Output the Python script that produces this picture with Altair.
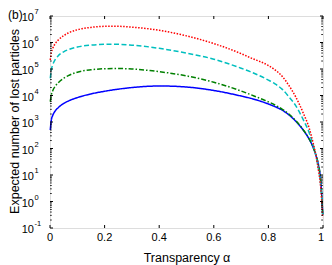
import altair as alt
import pandas as pd

# ---- data (log10 of the expected number) ----
alpha = [0.001, 0.005, 0.01, 0.02, 0.03, 0.05, 0.067, 0.1, 0.15, 0.2, 0.25, 0.3,
         0.366, 0.4, 0.5, 0.6, 0.7, 0.733, 0.8, 0.824, 0.85, 0.875, 0.9, 0.928,
         0.95, 0.964, 0.975, 0.983, 0.99, 0.995, 0.999]

red_dotted_log10 = [5.34, 5.62, 5.78, 5.97, 6.09, 6.26, 6.36, 6.48, 6.57, 6.61, 6.61, 6.58,
                    6.51, 6.46, 6.25, 5.96, 5.58, 5.43, 5.13, 4.97, 4.73, 4.38, 3.95, 3.33,
                    2.75, 2.20, 1.70, 1.20, 0.70, 0.10, -0.60]

cyan_dashed_log10 = [4.65, 4.98, 5.16, 5.37, 5.50, 5.65, 5.73, 5.83, 5.90, 5.93, 5.93, 5.90,
                     5.83, 5.78, 5.60, 5.37, 5.03, 4.90, 4.58, 4.44, 4.24, 3.95, 3.62, 3.08,
                     2.58, 2.12, 1.68, 1.25, 0.78, 0.20, -0.50]

green_dashdot_log10 = [3.77, 4.03, 4.18, 4.36, 4.48, 4.65, 4.75, 4.88, 4.97, 5.01, 5.02, 5.00,
                       4.94, 4.90, 4.74, 4.50, 4.17, 4.04, 3.76, 3.64, 3.49, 3.30, 3.05, 2.70,
                       2.35, 2.05, 1.72, 1.40, 0.95, 0.30, -0.50]

blue_solid_log10 = [2.70, 3.08, 3.25, 3.43, 3.54, 3.70, 3.79, 3.92, 4.06, 4.16, 4.24, 4.30,
                    4.35, 4.36, 4.32, 4.19, 3.98, 3.90, 3.68, 3.58, 3.45, 3.27, 3.03, 2.69,
                    2.34, 2.04, 1.71, 1.39, 0.94, 0.30, -0.50]

series_names = ["blue solid", "green dash-dot", "cyan dashed", "red dotted"]
series_log10 = [blue_solid_log10, green_dashdot_log10, cyan_dashed_log10, red_dotted_log10]
series_colors = ["#0000ff", "#008000", "#00bfbf", "#ff0000"]
series_dash = [[1, 0], [5, 2, 1.5, 2], [5, 2.5], [1.5, 1.5]]

x_ticks = [0, 0.2, 0.4, 0.6, 0.8, 1]
x_tick_labels = ["0", "0.2", "0.4", "0.6", "0.8", "1"]
y_major = [1e-1, 1e0, 1e1, 1e2, 1e3, 1e4, 1e5, 1e6, 1e7]
y_exponents = ["-1", "0", "1", "2", "3", "4", "5", "6", "7"]
y_minor = [m * d for d in y_major[:-1] for m in range(2, 10)]

panel_label = "(b)"
x_title = "Transparency α"
y_title = "Expected number of lost particles"

# ---- build tables ----
rows = []
for name, logs in zip(series_names, series_log10):
    for a, lv in zip(alpha, logs):
        rows.append({"alpha": a, "value": 10 ** lv, "series": name})
df = pd.DataFrame(rows)

xticks_df = pd.DataFrame({"t": x_ticks, "lab": x_tick_labels})
ymaj_df = pd.DataFrame({"t": y_major, "exp": y_exponents})
ymin_df = pd.DataFrame({"t": y_minor})

FONT = "Liberation Sans"
W, H = 273, 212

xs = alt.Scale(domain=[0, 1], nice=False, zero=False)
ys = alt.Scale(type="log", domain=[0.1, 1e7], nice=False)

lines = alt.Chart(df).mark_line(strokeWidth=1.5, interpolate="monotone").encode(
    x=alt.X("alpha:Q", scale=xs, axis=alt.Axis(
        title=x_title, labels=False, ticks=False, domain=False, grid=False,
        titleFont=FONT, titleFontSize=12.5, titleFontWeight="normal",
        titleColor="black", titleX=W / 2, titleY=33, titleBaseline="alphabetic",
        titleAlign="center")),
    y=alt.Y("value:Q", scale=ys, axis=alt.Axis(
        title=y_title, labels=False, ticks=False, domain=False, grid=False,
        titleFont=FONT, titleFontSize=12.5, titleFontWeight="normal",
        titleColor="black", titleX=-36, titleY=H / 2 - 1, titleAngle=270,
        titleBaseline="middle", titleAlign="center")),
    color=alt.Color("series:N", scale=alt.Scale(domain=series_names, range=series_colors), legend=None),
    strokeDash=alt.StrokeDash("series:N", scale=alt.Scale(domain=series_names, range=series_dash), legend=None),
)

tick_x_bottom = alt.Chart(xticks_df).mark_rule(color="black", strokeWidth=1).encode(
    x=alt.X("t:Q", scale=xs), y=alt.value(H), y2=alt.value(H - 3))
tick_x_top = alt.Chart(xticks_df).mark_rule(color="black", strokeWidth=1).encode(
    x=alt.X("t:Q", scale=xs), y=alt.value(0), y2=alt.value(3))
tick_y_left = alt.Chart(ymaj_df).mark_rule(color="black", strokeWidth=1).encode(
    y=alt.Y("t:Q", scale=ys), x=alt.value(0), x2=alt.value(3))
tick_y_right = alt.Chart(ymaj_df).mark_rule(color="black", strokeWidth=1).encode(
    y=alt.Y("t:Q", scale=ys), x=alt.value(W), x2=alt.value(W - 3))
minor_left = alt.Chart(ymin_df).mark_rule(color="black", strokeWidth=0.8).encode(
    y=alt.Y("t:Q", scale=ys), x=alt.value(0), x2=alt.value(1.8))
minor_right = alt.Chart(ymin_df).mark_rule(color="black", strokeWidth=0.8).encode(
    y=alt.Y("t:Q", scale=ys), x=alt.value(W), x2=alt.value(W - 1.8))

xlab_inner = alt.Chart(xticks_df.iloc[:-1]).mark_text(
    align="center", baseline="top", font=FONT, fontSize=11, color="black"
).encode(x=alt.X("t:Q", scale=xs), y=alt.value(H + 4), text="lab:N")
xlab_last = alt.Chart(xticks_df.iloc[-1:]).mark_text(
    align="right", baseline="top", font=FONT, fontSize=11, color="black", dx=1
).encode(x=alt.X("t:Q", scale=xs), y=alt.value(H + 4), text="lab:N")

ylab_base = alt.Chart(ymaj_df).mark_text(
    align="right", baseline="middle", font=FONT, fontSize=11, color="black", dy=2
).encode(y=alt.Y("t:Q", scale=ys), x=alt.value(-16), text=alt.value("10"))
ylab_exp = alt.Chart(ymaj_df).mark_text(
    align="left", baseline="middle", font=FONT, fontSize=7.5, color="black", dy=-4
).encode(y=alt.Y("t:Q", scale=ys), x=alt.value(-15.5), text="exp:N")

panel = alt.Chart(pd.DataFrame({"label": [panel_label]})).mark_text(
    align="left", baseline="middle", font=FONT, fontSize=12, color="black"
).encode(x=alt.value(-42), y=alt.value(-1), text="label:N")

chart = alt.layer(
    lines, tick_x_bottom, tick_x_top, tick_y_left, tick_y_right,
    minor_left, minor_right, xlab_inner, xlab_last, ylab_base, ylab_exp, panel
).properties(
    width=W, height=H,
    autosize=alt.AutoSizeParams(type="none"),
    padding={"left": 42, "top": 8, "right": 1, "bottom": 37},
).configure_view(stroke="black", strokeWidth=1).configure(background="white")

chart.save("out.html", embed_options={"renderer": "svg", "actions": False})
